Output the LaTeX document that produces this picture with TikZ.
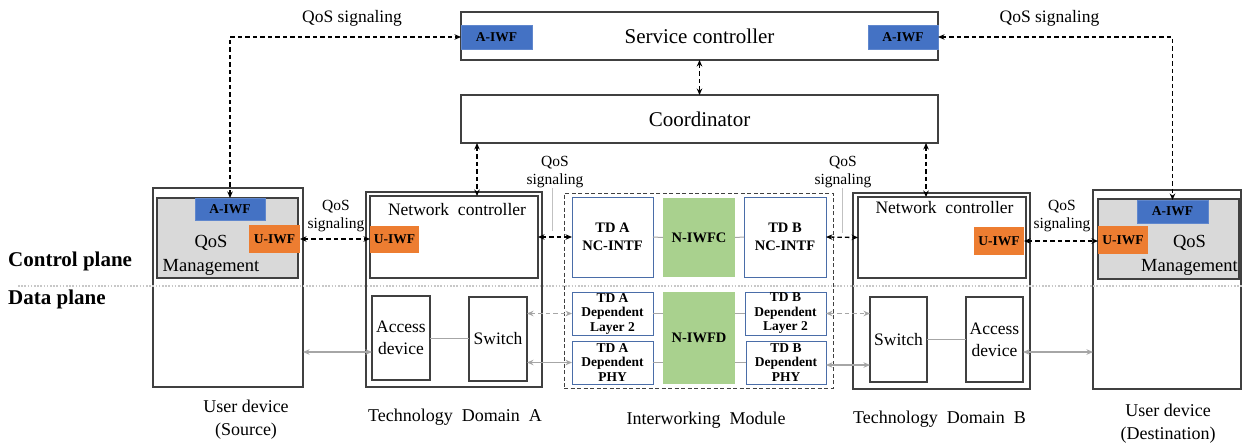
\documentclass[tikz,border=0pt]{standalone}
\usepackage{fontspec}
\setmainfont{Liberation Serif}
\usetikzlibrary{arrows.meta}
\definecolor{iwfblue}{HTML}{4472C4}
\definecolor{iwforange}{HTML}{ED7D31}
\definecolor{iwfgreen}{HTML}{A9D18E}
\definecolor{mgrey}{HTML}{D9D9D9}
\definecolor{edge}{HTML}{404040}
\definecolor{tdblue}{HTML}{4A6DA8}
\definecolor{lgrey}{HTML}{A6A6A6}
\definecolor{dotgrey}{HTML}{C8C8C8}
\tikzset{
  box/.style={draw=edge, line width=1.1pt, fill=white, inner sep=0pt, outer sep=0pt, align=center},
  mgmt/.style={box, fill=mgrey},
  tdbox/.style={draw=tdblue, line width=1pt, fill=white, inner sep=0pt, outer sep=0pt, align=center, font=\bfseries\fontsize{13.5}{14.5}\selectfont},
  ncintf/.style={tdbox, font=\bfseries\fontsize{14.5}{18}\selectfont},
  green/.style={fill=iwfgreen, draw=none, inner sep=0pt, outer sep=0pt, font=\bfseries\fontsize{14.5}{16}\selectfont},
  aiwf/.style={fill=iwfblue, draw=iwfblue!85!white, inner sep=0pt, outer sep=0pt, font=\bfseries\fontsize{13.5}{14}\selectfont},
  uiwf/.style={fill=iwforange, draw=none, inner sep=0pt, outer sep=0pt, font=\bfseries\fontsize{13.5}{14}\selectfont},
  tip/.style={Stealth[length=6.5pt,width=5.5pt]},
  sig/.style={line width=1.3pt, dash pattern=on 4.5pt off 3pt, {Stealth[length=6.5pt,width=5.5pt]}-{Stealth[length=6.5pt,width=5.5pt]}},
  dataarr/.style={lgrey, line width=1.4pt, {Stealth[length=6.5pt,width=5.5pt]}-{Stealth[length=6.5pt,width=5.5pt]}},
  datadash/.style={dataarr, dash pattern=on 4.5pt off 3pt},
  glink/.style={lgrey, line width=1pt},
  lbl/.style={inner sep=0pt, align=center, font=\fontsize{15.5}{18.5}\selectfont},
  biglbl/.style={inner sep=0pt, align=center, font=\fontsize{18}{23}\selectfont},
  plane/.style={inner sep=0pt, anchor=west, font=\bfseries\fontsize{21}{24}\selectfont}
}
\begin{document}
\begin{tikzpicture}[x=1pt,y=1pt]
\useasboundingbox (0,0) rectangle (1242,-447);
\fill[white] (0,0) rectangle (1242,-447);

% top boxes
\node[box, minimum width=477, minimum height=48, font=\fontsize{21}{24}\selectfont] (sc) at (699.5,-36) {Service controller};
\node[aiwf, minimum width=71, minimum height=24] (aiwfL) at (496.5,-37) {A-IWF};
\node[aiwf, minimum width=70, minimum height=24] (aiwfR) at (903,-37) {A-IWF};
\node[box, minimum width=477, minimum height=48, font=\fontsize{21}{24}\selectfont] (coord) at (699.5,-119) {Coordinator};

% left user device
\node[box, minimum width=150, minimum height=199] (udL) at (228,-287.5) {};
\node[mgmt, minimum width=141, minimum height=80] (qmL) at (227.5,-238) {};
\node[aiwf, minimum width=70, minimum height=22] (aiwfUL) at (230,-209) {A-IWF};
\node[uiwf, minimum width=51, minimum height=28] (uiwfUL) at (274.5,-239) {U-IWF};
\node[inner sep=0pt, align=center, font=\fontsize{18.5}{24}\selectfont] (qmLt) at (211,-255) {QoS\\Management};

% technology domain A
\node[box, minimum width=176, minimum height=195] (tdA) at (454,-289.5) {};
\node[box, minimum width=168, minimum height=82] (ncA) at (454,-237) {};
\node[inner sep=0pt, font=\fontsize{17.5}{20}\selectfont] (ncAt) at (457,-210) {Network\ \ controller};
\node[uiwf, minimum width=49, minimum height=27] (uiwfA) at (394.5,-239.5) {U-IWF};
\node[box, minimum width=58, minimum height=84, font=\fontsize{17.5}{22}\selectfont] (accA) at (401,-338) {Access\\device};
\node[box, minimum width=58, minimum height=84, font=\fontsize{17.5}{22}\selectfont] (swA) at (498,-339) {Switch};

% interworking module
\node[draw=edge, line width=1pt, dash pattern=on 4pt off 2.5pt, minimum width=269, minimum height=195, inner sep=0pt] (iwm) at (698.5,-290.5) {};
\node[ncintf, minimum width=81, minimum height=80] (ncIntfA) at (612.5,-237) {TD A\\NC-INTF};
\node[green, minimum width=72, minimum height=79] (niwfc) at (699,-237.5) {N-IWFC};
\node[ncintf, minimum width=82, minimum height=80] (ncIntfB) at (785,-237) {TD B\\NC-INTF};
\node[tdbox, minimum width=81, minimum height=43] (l2A) at (612.5,-313.5) {TD A\\Dependent\\Layer 2};
\node[tdbox, minimum width=81, minimum height=43] (phyA) at (612.5,-362.5) {TD A\\Dependent\\PHY};
\node[green, minimum width=72, minimum height=92] (niwfd) at (699,-338) {N-IWFD};
\node[tdbox, minimum width=81, minimum height=43] (l2B) at (785.5,-313.5) {TD B\\Dependent\\Layer 2};
\node[tdbox, minimum width=80, minimum height=43] (phyB) at (786,-362.5) {TD B\\Dependent\\PHY};

% technology domain B
\node[box, minimum width=177, minimum height=196] (tdB) at (941.5,-291) {};
\node[box, minimum width=168, minimum height=81] (ncB) at (942,-237.5) {};
\node[inner sep=0pt, font=\fontsize{17.5}{20}\selectfont] (ncBt) at (944.5,-208) {Network\ \ controller};
\node[uiwf, minimum width=50, minimum height=28] (uiwfB) at (999,-241) {U-IWF};
\node[box, minimum width=57, minimum height=85, font=\fontsize{17.5}{22}\selectfont] (swB) at (898.5,-339.5) {Switch};
\node[box, minimum width=57, minimum height=85, font=\fontsize{17.5}{22}\selectfont] (accB) at (994.5,-339.5) {Access\\device};

% right user device
\node[box, minimum width=148, minimum height=199] (udR) at (1167,-289.5) {};
\node[mgmt, minimum width=141, minimum height=80] (qmR) at (1168.5,-239) {};
\node[aiwf, minimum width=71, minimum height=23] (aiwfUR) at (1172.5,-211.5) {A-IWF};
\node[uiwf, minimum width=50, minimum height=28] (uiwfUR) at (1123,-240) {U-IWF};
\node[inner sep=0pt, align=center, font=\fontsize{18.5}{24}\selectfont] (qmRt) at (1189.5,-255) {QoS\\Management};

% plane divider
\coordinate (dvL) at (18,-286);
\coordinate (dvR) at (1242,-286);
\draw[dotgrey, line width=1.6pt, dash pattern=on 1.6pt off 1.6pt] (dvL) -- (dvR);
\node[plane] (cp) at (8,-261) {Control plane};
\node[plane] (dp) at (8,-299) {Data plane};

% labels
\node[lbl, font=\fontsize{17.5}{20}\selectfont] (qsTL) at (352,-18) {QoS signaling};
\node[lbl, font=\fontsize{17.5}{20}\selectfont] (qsTR) at (1049.5,-18) {QoS signaling};
\node[lbl] (qsL) at (336,-216) {QoS\\signaling};
\node[lbl] (qsA) at (555,-172) {QoS\\signaling};
\node[lbl] (qsB) at (843,-172) {QoS\\signaling};
\node[lbl] (qsR) at (1062,-216) {QoS\\signaling};

\node[biglbl] (udLl) at (246,-420) {User device\\(Source)};
\node[biglbl] (tdAl) at (455,-417) {Technology\ \ Domain\ \ A};
\node[biglbl] (iwml) at (706,-420) {Interworking\ \ Module};
\node[biglbl] (tdBl) at (939.5,-419) {Technology\ \ Domain\ \ B};
\node[biglbl] (udRl) at (1168,-424) {User device\\(Destination)};

% signaling connectors
\draw[sig] (aiwfUL.north) |- (aiwfL.west);
\draw[sig] (aiwfR.east) -| (aiwfUR.north);
\draw[sig] (sc.south) -- (coord.north);
\coordinate (cA) at (477,-150);
\coordinate (cB) at (926,-150);
\draw[sig] (coord.south -| cA) -- (ncA.north -| cA);
\draw[sig] (coord.south -| cB) -- (ncB.north -| cB);
\draw[sig] (uiwfUL.east) -- (uiwfUL.east -| uiwfA.west);
\draw[sig] (ncA.east) -- (ncIntfA.west);
\draw[sig] (ncIntfB.east) -- (ncB.west);
\draw[sig] (uiwfB.east) -- (uiwfB.east -| uiwfUR.west);

% leader lines
\coordinate (lA) at (552,-231);
\coordinate (lB) at (842,-233);
\draw[lgrey!70, line width=0.8pt] (qsA.south -| lA) -- (lA);
\draw[lgrey!70, line width=0.8pt] (qsB.south -| lB) -- (lB);

% internal links
\draw[glink] (ncIntfA.east) -- (niwfc.west);
\draw[glink] (niwfc.east) -- (ncIntfB.west);
\draw[glink] (l2A.east) -- (l2A.east -| niwfd.west);
\draw[glink] (phyA.east) -- (phyA.east -| niwfd.west);
\draw[glink] (l2B.west) -- (l2B.west -| niwfd.east);
\draw[glink] (phyB.west) -- (phyB.west -| niwfd.east);
\draw[glink] (accA.east) -- (accA.east -| swA.west);
\draw[glink] (swB.east) -- (swB.east -| accB.west);

% data connectors
\coordinate (dy) at (0,-352);
\draw[dataarr] (udL.east |- dy) -- (accA.west |- dy);
\draw[datadash] (l2A.west -| swA.east) -- (l2A.west);
\draw[dataarr] (phyA.west -| swA.east) -- (phyA.west);
\draw[datadash] (l2B.east) -- (l2B.east -| swB.west);
\coordinate (dyB) at (0,-365);
\draw[dataarr] (phyB.east |- dyB) -- (swB.west |- dyB);
\draw[dataarr] (accB.east |- dy) -- (udR.west |- dy);
\end{tikzpicture}
\end{document}
